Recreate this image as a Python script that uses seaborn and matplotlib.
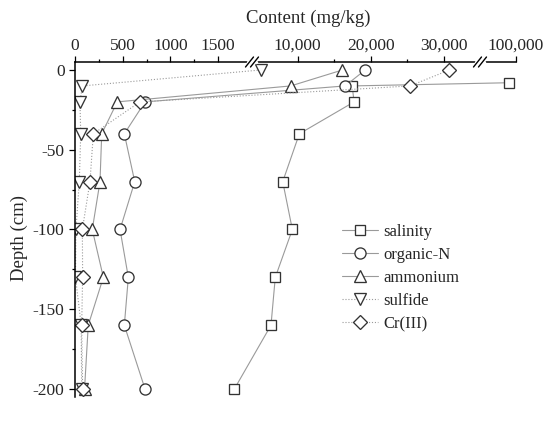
import numpy as np
import seaborn as sns
import matplotlib.pyplot as plt
from matplotlib.ticker import FixedLocator, FixedFormatter

# data (mg/kg vs depth in cm)
depth = [0, -10, -20, -40, -70, -100, -130, -160, -200]
depth_salinity = [-8, -10, -20, -40, -70, -100, -130, -160, -200]
salinity = [87000, 17460, 17730, 10220, 7940, 9260, 6920, 6330, 1670]
organic_n = [19250, 16500, 734, 517, 626, 472, 559, 517, 734]
ammonium = [16130, 9040, 443, 280, 262, 181, 297, 139, 100]
sulfide = [4900, 77, 52, 60, 45, 10, 5, 65, 70]
cr3 = [30800, 25400, 681, 192, 157, 77, 80, 70, 80]

major_ticks = [0, 500, 1000, 1500, 10000, 20000, 30000, 100000]
major_labels = ["0", "500", "1000", "1500", "10,000", "20,000", "30,000", "100,000"]
minor_ticks = [250, 750, 1250, 15000, 25000]

# broken x axis as a piecewise linear scale
brk_vals = [0, 1834, 4000, 35000, 100000]
brk_pos = [0, 175, 179, 405, 441]

def fwd(v):
    return np.interp(v, brk_vals, brk_pos)

def inv(p):
    return np.interp(p, brk_pos, brk_vals)

sns.set_style("ticks")
plt.rcParams['font.family'] = ['Liberation Serif', 'DejaVu Serif']
plt.rcParams['axes.unicode_minus'] = False

fig = plt.figure(figsize=(5.5, 4.22), dpi=100)
ax = fig.add_axes([75/550, 25/422, 441/550, 335/422])
ax.set_xscale('function', functions=(fwd, inv))

line_c = '#9a9a9a'
edge_c = '#333333'
series = [
    ("salinity", salinity, depth_salinity, 's', '-', 7.5),
    ("organic-N", organic_n, depth, 'o', '-', 8),
    ("ammonium", ammonium, depth, '^', '-', 8.5),
    ("sulfide", sulfide, depth, 'v', ':', 8.5),
    ("Cr(III)", cr3, depth, 'D', ':', 7),
]
for name, vals, dep, mk, ls, ms in series:
    sns.lineplot(x=vals, y=dep, sort=False, estimator=None, ax=ax, label=name,
                 color=line_c, linestyle=ls, linewidth=0.8, marker=mk, markersize=ms,
                 markerfacecolor='white', markeredgecolor=edge_c, markeredgewidth=0.95)

ax.set_xlim(0, 100000)
ax.set_ylim(-205, 5)

ax.xaxis.tick_top()
ax.xaxis.set_major_locator(FixedLocator(major_ticks))
ax.xaxis.set_major_formatter(FixedFormatter(major_labels))
ax.xaxis.set_minor_locator(FixedLocator(minor_ticks))
ax.set_yticks([0, -50, -100, -150, -200])
ax.yaxis.set_minor_locator(FixedLocator([-25, -75, -125, -175]))
ax.tick_params(which='major', direction='out', length=4, width=0.9, labelsize=12.5, color='black')
ax.tick_params(which='minor', direction='out', length=2.5, width=0.9, color='black')
ax.tick_params(axis='x', pad=2)

for s in ['bottom', 'right']:
    ax.spines[s].set_visible(False)
for s in ['top', 'left']:
    ax.spines[s].set_linewidth(1.1)
    ax.spines[s].set_color('black')

ax.xaxis.set_label_position('top')
ax.set_xlabel("Content (mg/kg)", fontsize=13.5)
ax.xaxis.set_label_coords(0.528, 1.117)
ax.set_ylabel("Depth (cm)", fontsize=13.5)
ax.yaxis.set_label_coords(-0.107, 0.475)

# break marks on top axis
h = 1.0
for bx in [177, 405]:
    xf = bx / 441
    ax.plot([xf - 4/441, xf + 4/441], [h, h], transform=ax.transAxes, color='white',
            linewidth=2.5, clip_on=False, zorder=5)
    for off in [-2.5, 2.5]:
        x0 = (bx + off - 4) / 441
        x1 = (bx + off + 4) / 441
        ax.plot([x0, x1], [h - 5/335, h + 5/335], transform=ax.transAxes,
                color='black', linewidth=1.0, clip_on=False, zorder=6)

ax.legend(loc='upper left', bbox_to_anchor=(0.605, 0.516), frameon=False,
          fontsize=12, handlelength=2.2, handletextpad=0.3, labelspacing=0.42,
          borderpad=0, borderaxespad=0)

fig.savefig("out.png", dpi=100)
